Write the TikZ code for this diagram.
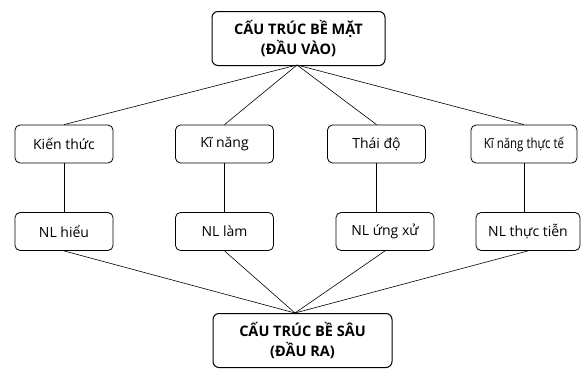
\documentclass[tikz,border=0pt]{standalone}
\usepackage{fontspec}
\setmainfont{Open Sans}
\begin{document}
\begin{tikzpicture}[x=1pt,y=-1pt,
  box/.style={draw,line width=0.8pt,rounded corners=5pt,minimum width=98pt,minimum height=38pt,inner sep=0pt,font=\fontsize{14}{16}\selectfont},
  bigbox/.style={draw,line width=1pt,rounded corners=6pt,minimum height=54pt,inner sep=0pt,align=center,font=\bfseries\fontsize{14.5}{20}\selectfont},
  link/.style={line width=0.6pt}]
\useasboundingbox (0,0) rectangle (584,370);
\node[bigbox,minimum width=173pt] (top) at (298.5,38.5) {CẤU TRÚC BỀ MẶT\\(ĐẦU VÀO)};
\node[bigbox,minimum width=179pt] (bot) at (302.5,340.5) {CẤU TRÚC BỀ SÂU\\(ĐẦU RA)};
\node[box] (k1) at (64,144) {Kiến thức};
\node[box] (k2) at (224.5,144) {Kĩ năng};
\node[box] (k3) at (376.5,144) {Thái độ};
\node[box,minimum width=106pt] (k4) at (524,144) {\addfontfeature{FakeStretch=0.82}Kĩ năng thực tế};
\node[box] (n1) at (64,231.5) {NL hiểu};
\node[box] (n2) at (224.5,231.5) {NL làm};
\node[box] (n3) at (385,231.5) {NL ứng xử};
\node[box,minimum width=104pt] (n4) at (528,231.5) {NL thực tiễn};
\coordinate (tj) at (297,65);
\coordinate (bj) at (295,313);
\foreach \i in {1,2,3,4}{
  \draw[link] (tj) -- (k\i.north);
  \draw[link] (k\i.south) -- (k\i.south |- n\i.north);
  \draw[link] (n\i.south) -- (bj);
}
\end{tikzpicture}
\end{document}
